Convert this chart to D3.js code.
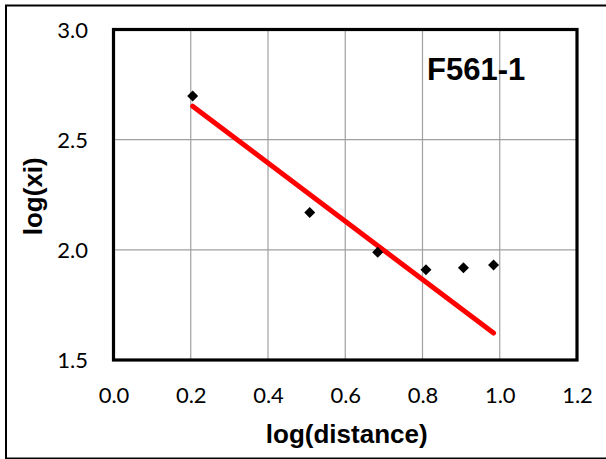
<!DOCTYPE html>
<html>
<head>
<meta charset="utf-8">
<script src="https://cdn.jsdelivr.net/npm/d3@7"></script>
<style>
  html, body { margin: 0; padding: 0; background: #fff; }
  svg { display: block; }
</style>
</head>
<body>
<svg id="chart" width="606" height="459"></svg>
<script>
// ---- Data ----
const xValues = [0.205, 0.508, 0.684, 0.809, 0.906, 0.984];
const yValues = [2.698, 2.169, 1.989, 1.910, 1.919, 1.931];
const fitX = [0.205, 0.984];
const fitY = [2.652, 1.622];
const xTicks = [0.0, 0.2, 0.4, 0.6, 0.8, 1.0, 1.2];
const yTicks = [1.5, 2.0, 2.5, 3.0];
const chartLabel = "F561-1";
const xTitle = "log(distance)";
const yTitle = "log(xi)";

// ---- Layout ----
const svg = d3.select("#chart");
const plot = { left: 113.5, right: 577, top: 29.5, bottom: 360 };

const x = d3.scaleLinear().domain([0, 1.2]).range([plot.left, plot.right]);
const y = d3.scaleLinear().domain([1.5, 3.0]).range([plot.bottom, plot.top]);

// outer chart border
svg.append("rect")
  .attr("x", 6).attr("y", 5.5)
  .attr("width", 640).attr("height", 453)
  .attr("fill", "#fff")
  .attr("stroke", "#000").attr("stroke-width", 2);

// gridlines
const grid = svg.append("g");
grid.selectAll("line.vx").data(xTicks.slice(1, -1)).join("line")
  .attr("x1", d => x(d)).attr("x2", d => x(d))
  .attr("y1", plot.top).attr("y2", plot.bottom)
  .attr("stroke", "#a0a0a0").attr("stroke-width", 1.2);
grid.selectAll("line.hy").data(yTicks.slice(1, -1)).join("line")
  .attr("y1", d => y(d)).attr("y2", d => y(d))
  .attr("x1", plot.left).attr("x2", plot.right)
  .attr("stroke", "#a0a0a0").attr("stroke-width", 1.2);

// plot area border
svg.append("rect")
  .attr("x", plot.left).attr("y", plot.top)
  .attr("width", plot.right - plot.left).attr("height", plot.bottom - plot.top)
  .attr("fill", "none").attr("stroke", "#000").attr("stroke-width", 3.2);

// axes (labels only)
const tickFont = "Lato, 'Open Sans', sans-serif";
const xAxis = d3.axisBottom(x).tickValues(xTicks).tickFormat(d3.format(".1f")).tickSize(0).tickPadding(0);
const gx = svg.append("g").attr("transform", `translate(0,${plot.bottom})`).call(xAxis);
gx.select(".domain").remove();
gx.selectAll("text")
  .attr("y", 43).attr("dy", 0)
  .attr("font-family", tickFont).attr("font-size", 22).attr("fill", "#000");

const yAxis = d3.axisLeft(y).tickValues(yTicks).tickFormat(d3.format(".1f")).tickSize(0).tickPadding(0);
const gy = svg.append("g").attr("transform", `translate(${plot.left},0)`).call(yAxis);
gy.select(".domain").remove();
gy.selectAll("text")
  .attr("x", 88 - plot.left).attr("dy", "0.36em")
  .attr("font-family", tickFont).attr("font-size", 22).attr("fill", "#000");

// fitted line
svg.append("path")
  .datum(fitX.map((d, i) => [d, fitY[i]]))
  .attr("d", d3.line().x(d => x(d[0])).y(d => y(d[1])))
  .attr("fill", "none").attr("stroke", "#ff0000")
  .attr("stroke-width", 5).attr("stroke-linecap", "round");

// data markers (diamonds)
const diamond = d3.symbol().type(d3.symbolSquare).size(60);
svg.selectAll("path.pt").data(xValues.map((d, i) => [d, yValues[i]])).join("path")
  .attr("class", "pt")
  .attr("d", diamond)
  .attr("transform", d => `translate(${x(d[0])},${y(d[1])}) rotate(45)`)
  .attr("fill", "#000");

// chart label
svg.append("text")
  .attr("x", 427).attr("y", 80)
  .attr("font-family", "'Liberation Sans', Arial, sans-serif")
  .attr("font-weight", "bold").attr("font-size", 31)
  .attr("fill", "#000")
  .text(chartLabel);

// axis titles
svg.append("text")
  .attr("x", (plot.left + plot.right) / 2 + 1.5).attr("y", 443)
  .attr("text-anchor", "middle")
  .attr("font-family", "'Liberation Sans', Arial, sans-serif")
  .attr("font-weight", "bold").attr("font-size", 26)
  .attr("fill", "#000")
  .text(xTitle);

svg.append("text")
  .attr("transform", `translate(41.5,${(plot.top + plot.bottom) / 2 + 1.5}) rotate(-90)`)
  .attr("text-anchor", "middle")
  .attr("font-family", "'Liberation Sans', Arial, sans-serif")
  .attr("font-weight", "bold").attr("font-size", 26)
  .attr("fill", "#000")
  .text(yTitle);
</script>
</body>
</html>
